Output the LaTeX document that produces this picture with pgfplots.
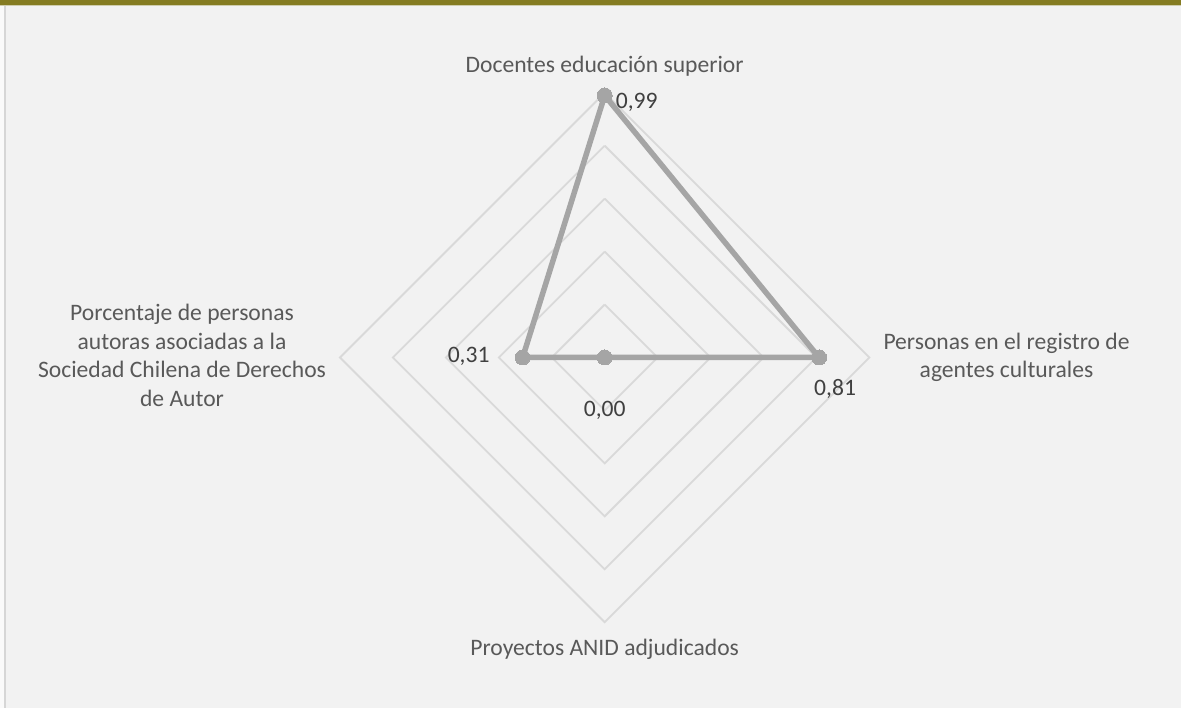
\documentclass[border=0pt]{standalone}
\usepackage{fontspec}
\setmainfont{Carlito}
\usepackage{pgfplots}
\pgfplotsset{compat=1.18}
\usepackage{pgfplotstable}
\definecolor{bgc}{HTML}{F2F2F2}
\definecolor{gridc}{HTML}{D9D9D9}
\definecolor{seriesc}{HTML}{A5A5A5}
\definecolor{labc}{HTML}{595959}
\definecolor{valc}{HTML}{404040}
\definecolor{olivec}{HTML}{857C22}
\definecolor{bandline}{HTML}{CFCDAE}
\definecolor{borderc}{HTML}{D6D6D6}

% radar values, placed on the four spokes (top, right, bottom, left)
\pgfplotstableread{
x     y     lab   dx   dy
0     0.99  0,99  32   -7
0.81  0     0,81  16   -31
0     0     0,00  0    -53
-0.31 0     0,31  -54  1
}\radardata

\newcommand{\lf}{\fontsize{23.6}{28.4}\selectfont}
\begin{document}
\begin{tikzpicture}
\begin{axis}[
  scale only axis,
  width=1181pt, height=708pt,
  xmin=-2.2845, xmax=2.1772,
  ymin=-1.3242, ymax=1.3506,
  axis lines=none,
  xtick=\empty, ytick=\empty,
  clip=false,
]
% background and frame
\fill[bgc] (rel axis cs:0,0) rectangle (rel axis cs:1,1);
\fill[white!60!bgc] (rel axis cs:0,0) rectangle (rel axis cs:0.0038,0.99294);
\fill[borderc] (rel axis cs:0.0038,0) rectangle (rel axis cs:0.0051,0.99294);
\fill[bandline] (rel axis cs:0,0.9915) rectangle (rel axis cs:1,0.99294);
\fill[olivec] (rel axis cs:0,0.99294) rectangle (rel axis cs:1,1);

% diamond grid rings
\addplot[gridc, line width=1.8pt, no markers] coordinates {(0,0.2)(0.2,0)(0,-0.2)(-0.2,0)(0,0.2)};
\addplot[gridc, line width=1.8pt, no markers] coordinates {(0,0.4)(0.4,0)(0,-0.4)(-0.4,0)(0,0.4)};
\addplot[gridc, line width=1.8pt, no markers] coordinates {(0,0.6)(0.6,0)(0,-0.6)(-0.6,0)(0,0.6)};
\addplot[gridc, line width=1.8pt, no markers] coordinates {(0,0.8)(0.8,0)(0,-0.8)(-0.8,0)(0,0.8)};
\addplot[gridc, line width=1.8pt, no markers] coordinates {(0,1)(1,0)(0,-1)(-1,0)(0,1)};

% series outline (closed)
\addplot[seriesc, line width=5.5pt, line join=round, line cap=round, no markers]
  coordinates {(0,0.99)(0.81,0)(0,0)(-0.31,0)(0,0.99)};
% series markers with value labels
\addplot[only marks, mark=*, mark size=7.5pt, mark options={fill=seriesc, draw=seriesc, line width=0pt},
  point meta=explicit symbolic,
  visualization depends on={\thisrow{dx} \as \dx},
  visualization depends on={\thisrow{dy} \as \dy},
  nodes near coords,
  nodes near coords style={anchor=center, inner sep=0pt, xshift=\dx pt, yshift=\dy pt, text=valc, font=\lf},
] table[x=x, y=y, meta=lab] {\radardata};

% category labels
\node[anchor=base, text=labc, font=\lf, inner sep=0pt] at (rel axis cs:0.5120,0.8969) {Docentes educación superior};
\node[anchor=base, text=labc, font=\lf, inner sep=0pt] at (rel axis cs:0.85225,0.50650) {Personas en el registro de};
\node[anchor=base, text=labc, font=\lf, inner sep=0pt] at (rel axis cs:0.85225,0.46638) {agentes culturales};
\node[anchor=base, text=labc, font=\lf, inner sep=0pt] at (rel axis cs:0.5120,0.07345) {Proyectos ANID adjudicados};
\node[anchor=base, text=labc, font=\lf, inner sep=0pt] at (rel axis cs:0.15411,0.54661) {Porcentaje de personas};
\node[anchor=base, text=labc, font=\lf, inner sep=0pt] at (rel axis cs:0.15411,0.50650) {autoras asociadas a la};
\node[anchor=base, text=labc, font=\lf, inner sep=0pt] at (rel axis cs:0.15411,0.46638) {Sociedad Chilena de Derechos};
\node[anchor=base, text=labc, font=\lf, inner sep=0pt] at (rel axis cs:0.15411,0.42627) {de Autor};
\end{axis}
\end{tikzpicture}
\end{document}
